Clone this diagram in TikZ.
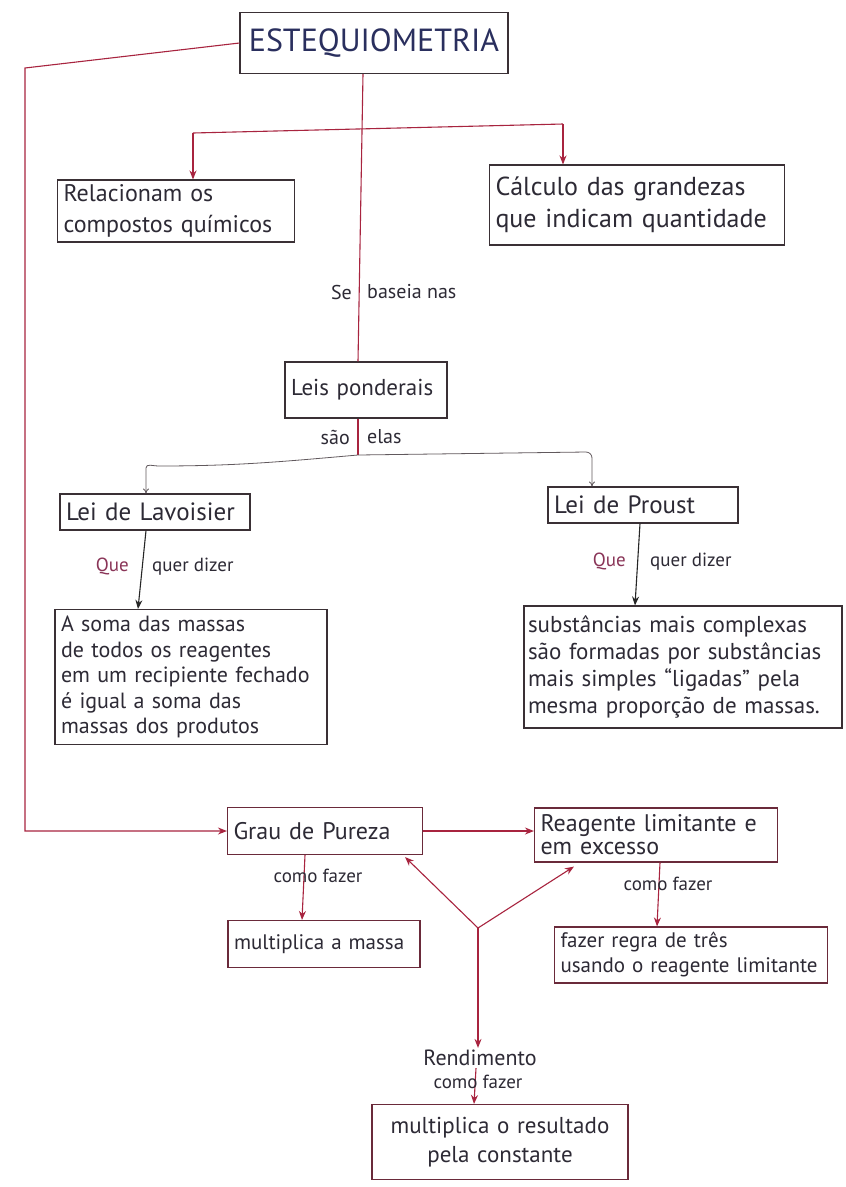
\documentclass[tikz,border=0pt]{standalone}
\usepackage{fontspec}
\setmainfont{PT Sans}
\usetikzlibrary{arrows.meta,calc}
\definecolor{linkc}{HTML}{A8243F}
\definecolor{boxc}{HTML}{3A3035}
\definecolor{boxr}{HTML}{6A2A3A}
\definecolor{inkc}{HTML}{2D2A35}
\definecolor{estc}{HTML}{2A2F5E}
\definecolor{quec}{HTML}{8A3558}
\tikzset{
  box/.style={draw=boxc, line width=1.1pt, inner xsep=6pt, inner ysep=4pt, align=left, text=inkc},
  rbox/.style={box, draw=boxr},
  link/.style={draw=linkc, line width=1.1pt},
  arr/.style={link, -{Stealth[length=9pt,width=7pt]}},
  oarr/.style={link, line width=0.8pt, -{To[length=5pt,width=6pt]}},
  barr/.style={draw=black!85, line width=1.1pt, -{Stealth[length=9pt,width=7pt]}},
  lbl/.style={text=inkc, font=\fontsize{19}{21}\selectfont, inner sep=2pt},
  qlbl/.style={text=quec, font=\fontsize{19}{21}\selectfont, inner sep=2pt},
}
\begin{document}
\begin{tikzpicture}[x=1pt,y=-1pt]
\useasboundingbox[fill=white] (0,0) rectangle (846,1187);

% nodes
\node[box, text width=256pt, minimum height=61pt, align=center, text=estc, font=\fontsize{32}{34}\selectfont] (est) at (374,43) {ESTEQUIOMETRIA};
\node[box, font=\fontsize{24}{31}\selectfont, text width=225pt, minimum height=62pt] (rel) at (176,211) {Relacionam os\\compostos químicos};
\node[box, font=\fontsize{26}{32}\selectfont, text width=283pt, minimum height=80pt] (calc) at (637,205) {Cálculo das grandezas\\que indicam quantidade};
\node[box, font=\fontsize{23}{26}\selectfont, text width=150pt, minimum height=56pt] (leis) at (366,390) {Leis ponderais};
\node[box, font=\fontsize{25}{27}\selectfont, text width=178pt, minimum height=36pt, inner ysep=1pt] (lav) at (155,512) {Lei de Lavoisier};
\node[box, font=\fontsize{25}{27}\selectfont, text width=178pt, minimum height=36pt, inner ysep=1pt] (pro) at (643,505) {Lei de Proust};
\node[box, font=\fontsize{22}{25.5}\selectfont, text width=260pt, minimum height=135pt] (lavtxt) at (191,677) {A soma das massas\\de todos os reagentes\\em um recipiente fechado\\é igual a soma das\\massas dos produtos};
\node[box, font=\fontsize{23}{27}\selectfont, text width=310pt, minimum height=122pt, inner xsep=4pt] (protxt) at (683,667) {substâncias mais complexas\\são formadas por substâncias\\mais simples “ligadas” pela\\mesma proporção de massas.};
\node[rbox, font=\fontsize{24}{27}\selectfont, text width=183pt, minimum height=47pt] (grau) at (325,831) {Grau de Pureza};
\node[rbox, font=\fontsize{24}{23}\selectfont, text width=231pt, minimum height=54pt, inner ysep=2pt] (reag) at (656,835) {Reagente limitante e\\em excesso};
\node[rbox, font=\fontsize{21}{24}\selectfont, text width=180pt, minimum height=47pt] (mult) at (324,944) {multiplica a massa};
\node[rbox, font=\fontsize{21}{25}\selectfont, text width=261pt, minimum height=56pt, inner ysep=2pt] (regra) at (691,955) {fazer regra de três\\usando o reagente limitante};
\node[text=inkc, font=\fontsize{22}{24}\selectfont, inner sep=2pt] (rend) at (480,1058) {Rendimento};
\node[rbox, font=\fontsize{23}{29}\selectfont, text width=244pt, minimum height=75pt, align=center] (final) at (500,1142) {multiplica o resultado\\pela constante};

% coordinates
\coordinate (lt) at (25,68);
\coordinate (lb) at (25,831);
\coordinate (bL) at (193,133);
\coordinate (bR) at (563,124);
\coordinate (jn) at (358,455);
\coordinate (jL) at (146,468);
\coordinate (jR) at (592,452);
\coordinate (yj) at (478,928);

% connectors
\draw[arr] (est.west) -- (lt) -- (lb) -- (grau.west);
\draw[link] ([xshift=-11pt]est.south) -- ([xshift=-8pt]leis.north);
\draw[link] (bL) -- (bR);
\draw[arr] (bL) -- (bL |- rel.north);
\draw[arr] (bR) -- (bR |- calc.north);
\node[lbl, font=\fontsize{20}{22}\selectfont, anchor=east] (se) at (354,292) {Se};
\node[lbl, font=\fontsize{20}{22}\selectfont, anchor=west] (bas) at (365,292) {baseia nas};

\draw[link] ([xshift=-8pt]leis.south) -- (jn);
\node[lbl, font=\fontsize{20}{22}\selectfont, anchor=east] (sao) at (352,437) {são};
\node[lbl, font=\fontsize{20}{22}\selectfont, anchor=west] (elas) at (365,437) {elas};
\draw[oarr, draw=boxc!80] (jn) to[out=185,in=0] ($(jL)+(12,-2)$) to[out=180,in=90] (jL) -- (jL |- lav.north);
\draw[oarr, draw=boxc!80] (jn) -- ($(jR)+(-6,0)$) to[out=0,in=90] ($(jR)+(0,6)$) -- (jR |- pro.north);

\draw[barr] ([xshift=-9pt]lav.south) -- ([xshift=-53pt]lavtxt.north);
\node[qlbl, anchor=east] (q1) at (131,566) {Que};
\node[lbl, anchor=west] (d1) at (150,567) {quer dizer};
\draw[barr] ([xshift=-3pt]pro.south) -- ([xshift=-48pt]protxt.north);
\node[qlbl, anchor=east] (q2) at (628,561) {Que};
\node[lbl, anchor=west] (d2) at (648,562) {quer dizer};

\draw[arr] (grau.east) -- (grau.east -| reag.west);
\draw[arr] ([xshift=-20pt]grau.south) -- ([xshift=-22pt]mult.north);
\node[lbl] (cf1) at (318,876) {como fazer};
\draw[arr] ([xshift=4pt]reag.south) -- ([xshift=-34pt]regra.north);
\node[lbl] (cf2) at (668,884) {como fazer};

\draw[arr] (yj) -- ([xshift=-18pt,yshift=-2pt]grau.south east);
\draw[arr] (yj) -- ([xshift=40pt,yshift=-4pt]reag.south west);
\draw[arr] (yj) -- (yj |- rend.north);
\draw[arr] ([xshift=-4pt]rend.south) -- ([xshift=-26pt]final.north);
\node[lbl] (cf3) at (478,1082) {como fazer};
\end{tikzpicture}
\end{document}
